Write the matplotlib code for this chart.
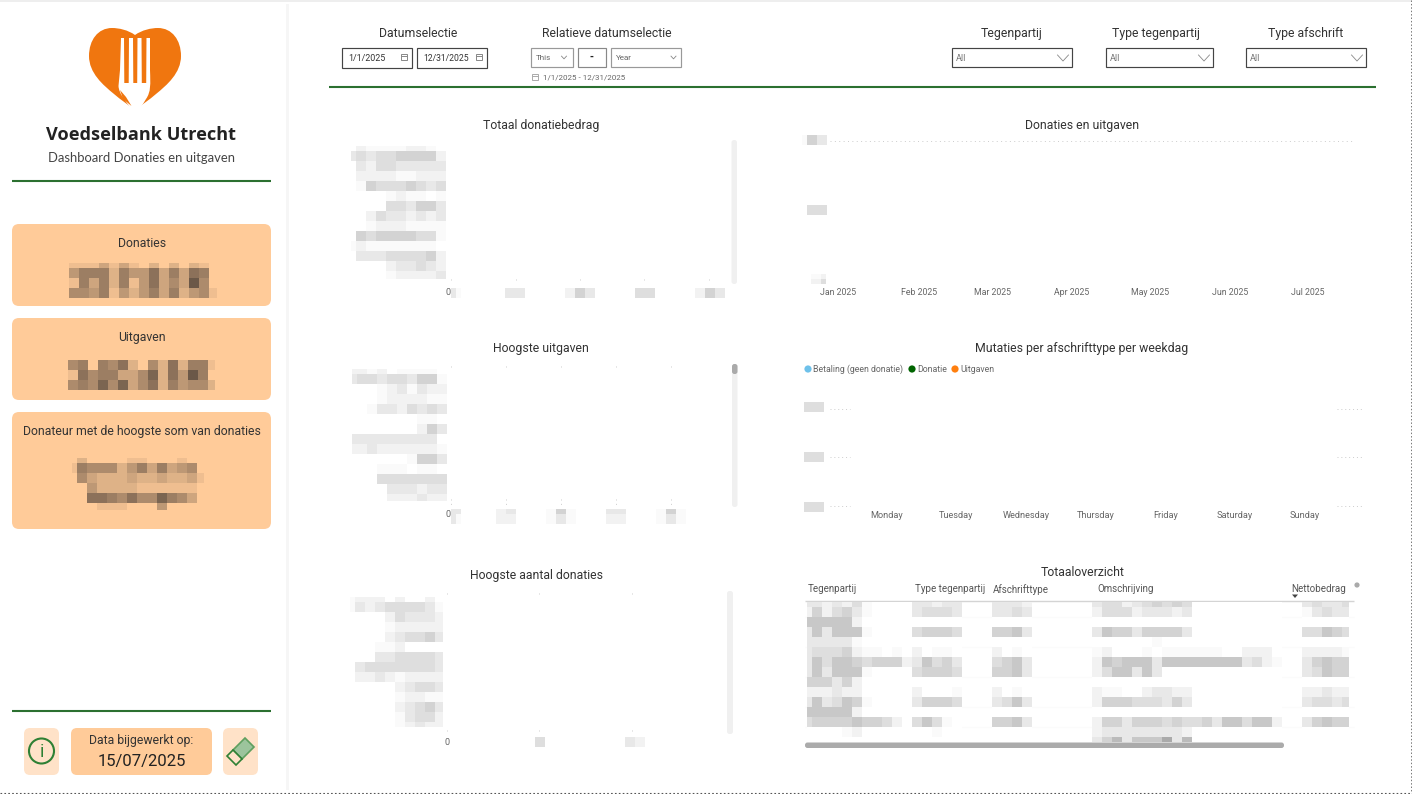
import numpy as np
import matplotlib
matplotlib.use('Agg')
import matplotlib.pyplot as plt
from matplotlib.colors import LinearSegmentedColormap
from matplotlib.patches import FancyBboxPatch, PathPatch, Polygon, Circle, Rectangle
from matplotlib.path import Path

plt.rcParams['font.family'] = 'Roboto'

# texts
months = ['Jan 2025', 'Feb 2025', 'Mar 2025', 'Apr 2025', 'May 2025', 'Jun 2025', 'Jul 2025']
weekdays = ['Monday', 'Tuesday', 'Wednesday', 'Thursday', 'Friday', 'Saturday', 'Sunday']
legend_names = ['Betaling (geen donatie)', 'Donatie', 'Uitgaven']
legend_colors = ['#6EC1EA', '#006400', '#FF7F0E']
table_headers = ['Tegenpartij', 'Type tegenpartij', 'Afschrifttype', 'Omschrijving', 'Nettobedrag']
slicers = ['Tegenpartij', 'Type tegenpartij', 'Type afschrift']

# pixelated (censored) parts of the report, digit = how dark the cell is
donaties_cells = ['111313102020210', '466626447363760', '163626147353950', '554614246362451']
uitgaven_cells = ['560657205272661', '175663358274960', '565858357264552']
donateur_cells = ['02000011000100', '16555246363450', '05322232232231', '00422221111110',
                  '00776575586530', '00011100040000']

totaal_labels = ['0211112210', '3434455552', '0324433333', '0222211222', '0154445434', '0000121101',
                 '0000443553', '0024332323', '0012221111', '0545555441', '1211111110', '0333444452',
                 '0000233432', '0000122223']
totaal_ticks = [['31'], ['33'], ['253'], ['44'], ['253']]

uitgaven_labels = ['2212011110', '3443443551', '0001231322', '0001222211', '0013324343', '0000000110',
                   '0000000253', '3333333330', '2232222221', '0000001553', '0001110110', '0004444444',
                   '0000333233', '0000222322']
uitgaven_ticks = [['33', '31'], ['23', '22'], ['151', '131'], ['33', '22'], ['151', '131']]

aantal_labels = ['1222020020', '1323444431', '0000243332', '0000122222', '0000234453', '0001120000',
                 '0003344443', '0344444443', '0223212222', '0000023443', '0000012211', '0000023453',
                 '0000013442', '0000012322']
aantal_ticks = [['4'], ['32']]

table_col1 = ['3323241000', '2524531000', '6666620000', '3636661000', '3333310000', '3444521101',
              '36466545552', '3636661000', '5553520000', '2223220000', '3634651000', '6666620000',
              '4555565542', '0000120000', '0000000000']
table_col2 = ['33233', '34443', '00000', '45554', '00000', '20110', '36453', '45554', '00000', '20001',
              '35554', '00000', '46410', '00100', '00000']
table_col3 = ['3332', '3343', '0000', '5563', '0000', '2010', '4563', '5563', '0000', '2010', '3463',
              '0000', '5563', '0000', '0000']
table_col4 = ['3442345454', '2444233323', '0000000000', '3655355553', '0000001000',
              '1200010111111002220', '2656663666666663421', '2466363000', '0000000000', '2110023322',
              '2555444353', '0000000000', '2553555454453664662', '2333333332', '3573666837']
table_col5 = ['34334', '13433', '00000', '44654', '00000', '22221', '35655', '34655', '00000', '22322',
              '34434', '00000', '35655', '00000', '00000']

grey_map = LinearSegmentedColormap.from_list('grey_cells', ['#FFFFFF', '#FAFAFA', '#F2F2F2', '#E8E8E8', '#DEDEDE',
                                                            '#D3D3D3', '#C8C8C8', '#BBBBBB', '#AAAAAA', '#999999'])
card_map = LinearSegmentedColormap.from_list('card_cells', ['#FFCB99', '#6B5848'])

ORANGE = '#FFCB99'
LIGHT_ORANGE = '#FFE2C8'
GREEN = '#2B7030'
ICON_GREEN = '#2E8034'
TITLE = '#333333'
AXIS = '#666666'
HEADING = 8.8

fig = plt.figure(figsize=(14.12, 7.94), dpi=100)
ax = fig.add_axes([0, 0, 1, 1])
ax.set_xlim(0, 1412)
ax.set_ylim(794, 0)
ax.axis('off')
ax.autoscale(False)


def mosaic(rows, x0, y0, clip=None, cmap=grey_map, w=10, h=10):
    ncol = max(len(r) for r in rows)
    vals = np.array([[int(c) for c in r.ljust(ncol, '0')] for r in rows])
    xe = x0 + np.arange(ncol + 1) * w
    ye = y0 + np.arange(len(rows) + 1) * h
    if clip is not None:
        xe = np.clip(xe, clip[0], clip[2])
        ye = np.clip(ye, clip[1], clip[3])
    ax.pcolormesh(xe, ye, vals, cmap=cmap, vmin=0, vmax=9, zorder=3)


def box(x0, y0, x1, y1, color, r=7, **kw):
    ax.add_patch(FancyBboxPatch((x0, y0), x1 - x0, y1 - y0, boxstyle=f'round,pad=0,rounding_size={r}',
                                fc=color, ec='none', **kw))


def txt(x, y, s, size=HEADING, color=TITLE, ha='center', **kw):
    ax.text(x, y + 0.7, s, fontsize=size, color=color, ha=ha, va='center', **kw)


def hline(x0, x1, y, color=GREEN, lw=1.5):
    ax.plot([x0, x1], [y, y], color=color, lw=lw, solid_capstyle='butt')


def dots(x0, x1, y0, y1=None, color='#CCCCCC', lw=0.7):
    ax.plot([x0, x1], [y0, y0 if y1 is None else y1], color=color, lw=lw, ls=(0, (1, 3.5)))


def chevron(x, y, size=4, color='#888888', lw=0.6):
    ax.plot([x - size, x, x + size], [y - size * 0.55, y + size * 0.55, y - size * 0.55], color=color, lw=lw)


def input_box(x0, x1, y0=47, y1=67, edge='#444444', lw=0.85):
    ax.add_patch(Rectangle((x0, y0), x1 - x0, y1 - y0, fc='white', ec=edge, lw=lw))


def calendar(x, y, color='#888888'):
    ax.add_patch(Rectangle((x - 3, y - 3), 6, 6, fc='none', ec=color, lw=0.7))
    ax.plot([x - 3, x + 3], [y - 1, y - 1], color=color, lw=0.7)


# page frame
ax.add_patch(Rectangle((0, 0), 1412, 2, fc='#EEEEEE', ec='none'))
ax.add_patch(Rectangle((286, 4), 2.5, 786, fc='#F6F6F6', ec='none'))
ax.plot([0, 1412], [793, 793], color='#555555', lw=0.8, ls=(0, (1.5, 2)))
ax.plot([1410.5, 1410.5], [0, 793], color='#777777', lw=0.7, ls=(0, (1.5, 2)))

# logo
heart = Path([(135, 35), (128, 30), (119, 28), (112, 28), (98, 28), (89, 40), (89, 56), (89, 73), (103, 85),
              (114, 94), (121, 100), (127, 104), (135, 110), (143, 104), (149, 100), (156, 94), (167, 85),
              (181, 73), (181, 56), (181, 40), (172, 28), (158, 28), (151, 28), (142, 30), (135, 35)],
             [Path.MOVETO] + [Path.CURVE4] * 24)
ax.add_patch(PathPatch(heart, fc='#F0760F', ec='none'))
fork = Path([(121, 38), (150, 38), (150, 70), (150.5, 84), (151, 92), (146, 99), (140, 109), (139, 111),
             (131, 111), (131, 108.5), (125, 100), (119, 94), (118.5, 86), (120, 70), (121, 38)],
            [Path.MOVETO, Path.LINETO, Path.LINETO, Path.CURVE4, Path.CURVE4, Path.CURVE4, Path.CURVE4, Path.LINETO,
             Path.LINETO, Path.LINETO, Path.CURVE4, Path.CURVE4, Path.CURVE4, Path.LINETO, Path.LINETO])
ax.add_patch(PathPatch(fork, fc='white', ec='none'))
for sx0, sx1 in [(124, 129), (133, 137.5), (141.5, 146.5)]:
    ax.add_patch(Polygon([(sx0, 37), (sx1, 37), (sx1 - 0.3, 83), (sx0 + 0.3, 83)], fc='#F0760F', ec='none'))
ax.add_patch(Polygon([(120, 90), (126, 97), (131.5, 106), (123, 99)], fc='#F0760F', ec='none'))

txt(141.5, 134.5, 'Voedselbank Utrecht', size=13.1, color='#222222', family='Open Sans', weight='bold')
txt(141.5, 157.5, 'Dashboard Donaties en uitgaven', size=9.4, color='#444444', family='Lato')
hline(12, 271, 181)

# KPI cards
box(12, 224, 271, 306, ORANGE)
box(12, 318, 271, 400, ORANGE)
box(12, 412, 271, 529, ORANGE)
txt(142, 243, 'Donaties')
txt(142, 337, 'Uitgaven')
txt(142, 431, 'Donateur met de hoogste som van donaties')
mosaic(donaties_cells, 69, 258, clip=(69, 263, 217, 298), cmap=card_map)
mosaic(uitgaven_cells, 68, 360, clip=(68, 360, 215, 390), cmap=card_map)
mosaic(donateur_cells, 67, 453, clip=(72, 458, 204, 510), cmap=card_map)

# bottom of the side panel
hline(12, 271, 711)
box(24, 728, 59, 775, LIGHT_ORANGE, r=6)
box(71, 728, 212, 775, ORANGE, r=6)
box(223, 728, 258, 775, LIGHT_ORANGE, r=6)
ax.add_patch(Circle((41.5, 751), 12.5, fc='none', ec=ICON_GREEN, lw=1.5))
txt(41.5, 751, 'i', size=13, color=ICON_GREEN)
txt(141.5, 740, 'Data bijgewerkt op:')
txt(141.5, 761, '15/07/2025', size=12, color='#222222')
ax.add_patch(Polygon([(233, 750), (245, 738), (254, 747), (242, 759)], fc='#9CC49C', ec='#5F9F5F', lw=1.2))
ax.add_patch(Polygon([(227, 756), (233, 750), (242, 759), (236, 765)], fc=LIGHT_ORANGE, ec=ICON_GREEN, lw=1.2))

# date slicers
txt(418, 33, 'Datumselectie')
input_box(341.5, 412, y0=47.5, y1=67.5)
input_box(416.5, 487, y0=47.5, y1=67.5)
txt(348, 57.5, '1/1/2025', size=6.4, color='#333333', ha='left')
txt(423, 57.5, '12/31/2025', size=6.2, color='#333333', ha='left')
calendar(404, 56.5)
calendar(479, 56.5)
txt(607, 33, 'Relatieve datumselectie')
input_box(531, 572.5, y0=47.5, edge='#999999')
input_box(577.5, 606, y0=47.5, edge='#888888')
input_box(610.5, 681, y0=47.5, edge='#999999')
txt(536, 57, 'This', size=5.8, color='#666666', ha='left')
txt(591, 56.5, '-', size=7.5, color='#222222', weight='bold')
txt(616, 57, 'Year', size=5.8, color='#666666', ha='left')
chevron(564, 57.5, size=2.5)
chevron(673.5, 57.5, size=2.5)
calendar(535, 77, color='#AAAAAA')
txt(543, 76.5, '1/1/2025 - 12/31/2025', size=5.8, color='#666666', ha='left')

# dropdown slicers
for name, cx, x0, x1 in zip(slicers, [1012, 1156, 1306], [951.5, 1105.5, 1245.5], [1072, 1213, 1366]):
    txt(cx, 33, name)
    input_box(x0, x1, y0=47.5, y1=67)
    txt(x0 + 4.5, 58, 'All', size=6.6, color='#777777', ha='left')
    chevron(x1 - 9, 58, size=5.5)
hline(329, 1376, 87)

# left bar charts (only labels survive the censoring)
txt(541, 124.5, 'Totaal donatiebedrag')
mosaic(totaal_labels, 346, 141, clip=(351, 146, 446, 279))
for x in [451, 516, 580, 644, 709]:
    dots(x, x, 279, 281)
txt(448.5, 291.5, '0', size=6.5, color=AXIS)
for cells, x in zip(totaal_ticks, [451, 505, 565, 635, 695]):
    mosaic(cells, x, 288, w=10 if x != 451 else 5)
box(731.5, 140, 737, 284, '#F0F0F0', r=2.5)

txt(541, 347.5, 'Hoogste uitgaven')
mosaic(uitgaven_labels, 347, 364, clip=(352, 369, 447, 501))
for x in [451, 506, 561, 616, 671]:
    dots(x, x, 366, 367)
    dots(x, x, 499, 505)
txt(448.5, 514, '0', size=6.5, color=AXIS)
for cells, x in zip(uitgaven_ticks, [451, 496, 546, 606, 656]):
    mosaic(cells[:1], x, 504, clip=(x, 509, x + 30, 514), w=5 if x == 451 else 10)
    mosaic(cells[1:], x, 514, w=5 if x == 451 else 10)
box(732, 364, 737.5, 507, '#F0F0F0', r=2.5)
box(732, 364, 737.5, 374, '#AAAAAA', r=2.5)

txt(537, 574.5, 'Hoogste aantal donaties')
mosaic(aantal_labels, 345, 592, clip=(350, 597, 443, 727))
for x in [447, 539, 632]:
    dots(x, x, 593, 594)
    dots(x, x, 730, 732)
txt(447, 741.5, '0', size=6.5, color=AXIS)
for cells, x in zip(aantal_ticks, [535, 625]):
    mosaic(cells, x, 737)
box(727, 591, 733, 734, '#F0F0F0', r=2.5)

# Donaties en uitgaven
txt(1082, 124.5, 'Donaties en uitgaven')
dots(830, 1352, 141)
mosaic(['153'], 797, 135, clip=(802, 135, 827, 145))
mosaic(['44'], 807, 205)
mosaic(['12', '24'], 811, 274, clip=(811, 274, 826, 284), h=5)
for name, x in zip(months, [838, 919, 992, 1072, 1150, 1230, 1308]):
    txt(x, 291.5, name, size=6.3, color=AXIS)

# Mutaties per afschrifttype per weekdag
txt(1082, 347.5, 'Mutaties per afschrifttype per weekdag')
for name, color, x in zip(legend_names, legend_colors, [808, 912, 955]):
    ax.add_patch(Circle((x, 369), 3.6, fc=color, ec='none'))
    txt(x + 5, 368.5, name, size=6.3, color=AXIS, ha='left')
for y in [402, 452, 502]:
    mosaic(['44'], 804, y)
for y in [409, 457, 506]:
    ax.plot([830, 850], [y, y], color='#CCCCCC', lw=0.7, ls=(0, (1, 3)))
    ax.plot([1337, 1362], [y, y], color='#CCCCCC', lw=0.7, ls=(0, (1, 3)))
for name, x in zip(weekdays, [887, 956, 1026, 1096, 1166, 1235, 1305]):
    txt(x, 514.5, name, size=6.6, color=AXIS)

# Totaaloverzicht
txt(1083, 571.5, 'Totaaloverzicht')
for name, x in zip(table_headers, [808, 915, 993, 1097, 1291]):
    txt(x, 588.5, name, size=7.05, color='#555555', ha='left')
hline(805, 1354, 600.5, color='#D4D4D4', lw=1)
ax.add_patch(Polygon([(1292, 594.5), (1298, 594.5), (1295, 598)], fc='#444444', ec='none'))
ax.add_patch(Circle((1357, 585), 2.6, fc='#AAAAAA', ec='none'))
for y in [617, 647, 677, 707, 727]:
    hline(805, 1354, y, color='#FBFBFB', lw=0.8)
for cells, x0, x_min, x_max in [(table_col1, 802, 807, 912), (table_col2, 912, 912, 962), (table_col3, 992, 992, 1032),
                                (table_col4, 1092, 1092, 1282), (table_col5, 1302, 1302, 1349)]:
    mosaic(cells, x0, 597, clip=(x_min, 602, x_max, 742))
box(805, 742.5, 1284, 748, '#ABABAB', r=2.5)
ax.patches[-1].set_zorder(4)

fig.savefig('out.png', dpi=100)
